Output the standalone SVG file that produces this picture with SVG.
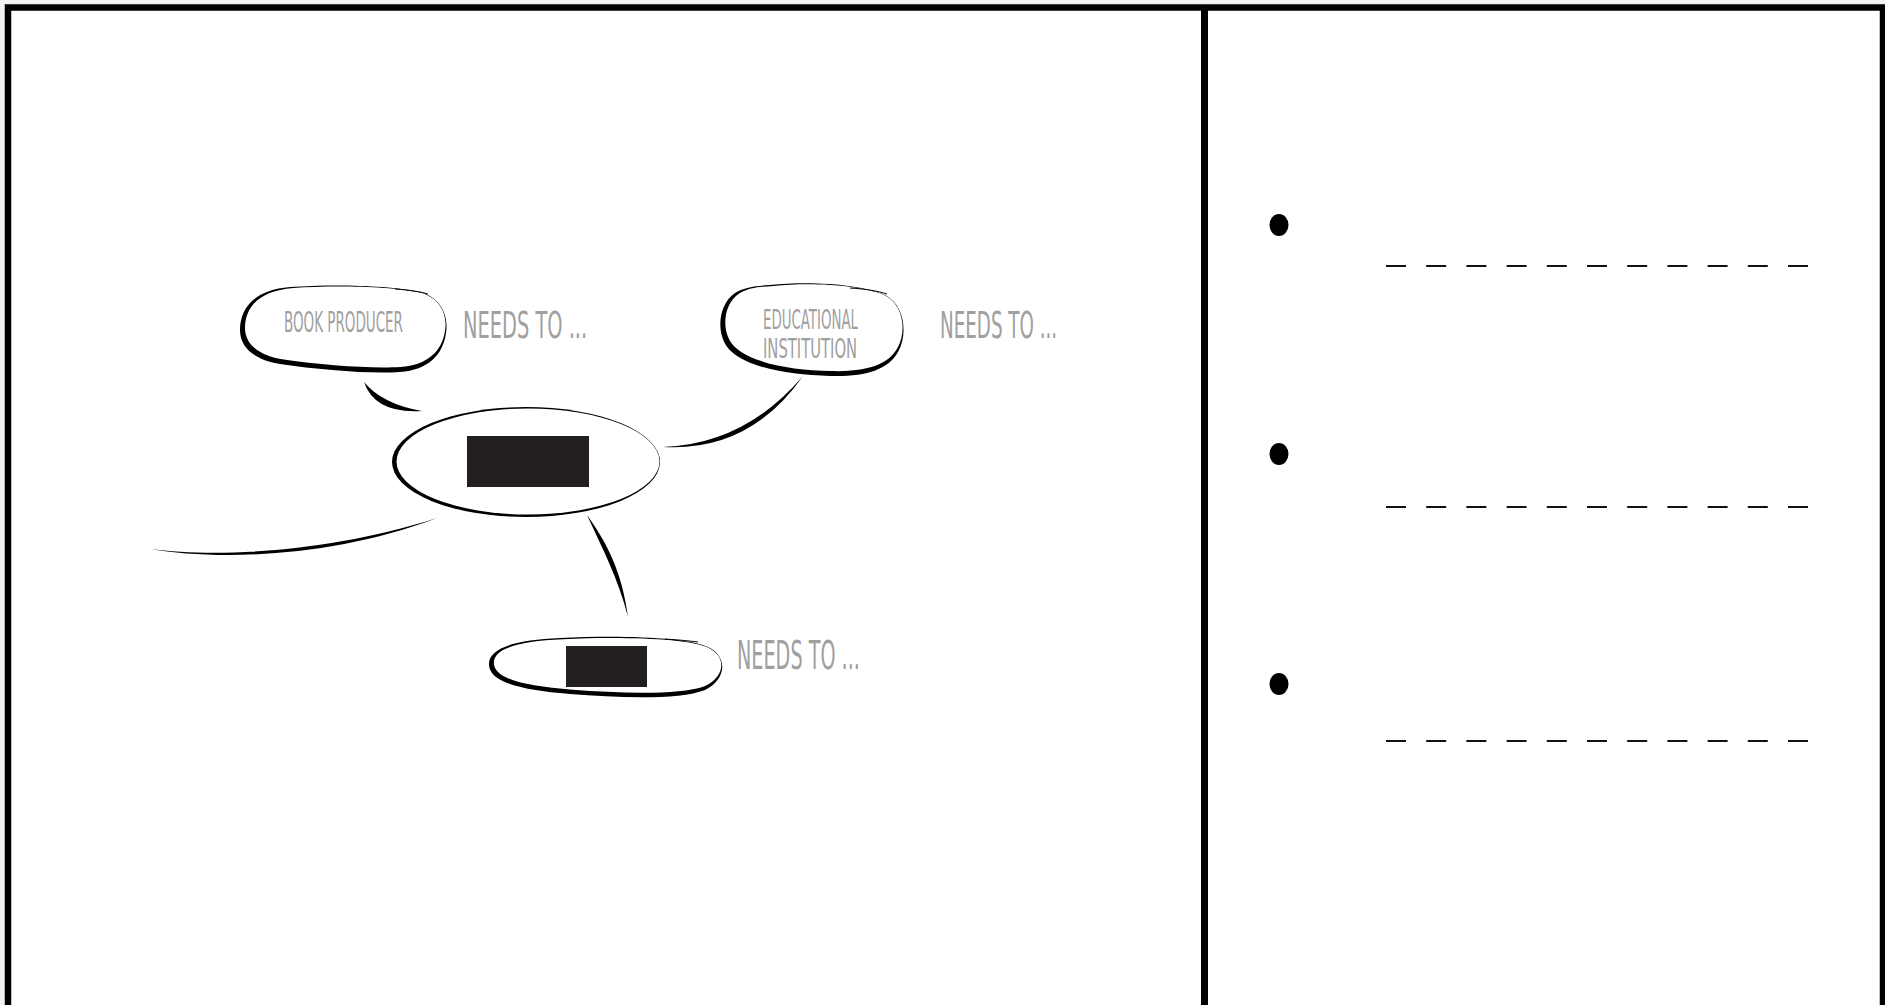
<svg xmlns="http://www.w3.org/2000/svg" width="1885" height="1005" viewBox="0 0 1885 1005">
<style>
.ink{fill:#000}
.paper{fill:#fff}
.lbl{font-family:"Liberation Sans Narrow","DejaVu Sans Condensed","Liberation Sans",sans-serif;fill:#a0a0a0}
.dash{stroke:#111;stroke-width:2.2;stroke-dasharray:20 20.2;fill:none}
.thin{fill:none;stroke:#000;stroke-width:1}
</style>
<rect x="0" y="0" width="1885" height="1005" fill="#f2f2f2"/>
<rect x="8" y="7.5" width="1875" height="1100" fill="#fff" stroke="#000" stroke-width="6.5"/>
<line x1="1204.5" y1="7" x2="1204.5" y2="1005" stroke="#000" stroke-width="7"/>

<g id="connectors">
  <path class="ink" d="M364,382 Q375,414 422,411 Q382,404 364,382 Z"/>
  <path class="ink" d="M803,376 Q750,452 663,447 Q745,444 803,376 Z"/>
  <path class="ink" d="M150,549 C220,558 330,552 437,518 C335,557 220,561 150,549 Z"/>
  <path class="ink" d="M587,515 C605,540 622,570 628,617 C618,578 603,550 587,515 Z"/>
</g>

<g id="node-central">
  <ellipse class="ink" cx="526" cy="462" rx="134" ry="55"/>
  <ellipse class="paper" cx="528" cy="461.5" rx="131.5" ry="53"/>
  <rect x="467" y="436" width="122" height="51" fill="#231f20"/>
</g>

<g id="node-book-producer">
  <path class="ink" d="M290,287 C330,284 390,285 420,292 C440,297 449,315 446,333 C443,355 428,370 400,372 C370,374 320,370 280,364 C255,360 240,348 240,330 C240,310 252,290 290,287 Z"/>
  <path class="paper" transform="translate(345.5,327) scale(0.971,0.93) translate(-343.5,-329)" d="M290,287 C330,284 390,285 420,292 C440,297 449,315 446,333 C443,355 428,370 400,372 C370,374 320,370 280,364 C255,360 240,348 240,330 C240,310 252,290 290,287 Z"/>
  <path class="thin" d="M395,289 C410,290 422,292 428,294"/>
  <text class="lbl" transform="translate(284,332) scale(0.583,1)" x="0" y="0" font-size="28" textLength="204" lengthAdjust="spacingAndGlyphs">BOOK PRODUCER</text>
  <text class="lbl" transform="translate(463,338) scale(0.64,1)" x="0" y="0" font-size="38" textLength="194" lengthAdjust="spacingAndGlyphs">NEEDS TO ...</text>
</g>

<g id="node-educational-institution">
  <path class="ink" d="M770,285 C810,281 860,284 885,295 C905,305 908,335 898,352 C888,370 865,377 830,376 C790,375 750,368 732,352 C715,338 717,305 735,293 C745,287 755,286 770,285 Z"/>
  <path class="paper" transform="translate(814,328) scale(0.9676,0.936) translate(-812,-330)" d="M770,285 C810,281 860,284 885,295 C905,305 908,335 898,352 C888,370 865,377 830,376 C790,375 750,368 732,352 C715,338 717,305 735,293 C745,287 755,286 770,285 Z"/>
  <path class="thin" d="M850,288 C866,289 878,291 887,294"/>
  <text class="lbl" transform="translate(763,329) scale(0.627,1)" x="0" y="0" font-size="26" textLength="151.5" lengthAdjust="spacingAndGlyphs">EDUCATIONAL</text>
  <text class="lbl" transform="translate(763,358) scale(0.702,1)" x="0" y="0" font-size="26" textLength="134" lengthAdjust="spacingAndGlyphs">INSTITUTION</text>
  <text class="lbl" transform="translate(940,338) scale(0.64,1)" x="0" y="0" font-size="38" textLength="183" lengthAdjust="spacingAndGlyphs">NEEDS TO ...</text>
</g>

<g id="node-bottom">
  <path class="ink" d="M560,638 C620,635 690,637 710,648 C728,658 726,680 705,690 C680,700 620,698 570,694 C520,690 490,682 489,665 C488,648 515,640 560,638 Z"/>
  <path class="paper" transform="translate(607,664.5) scale(0.975,0.903) translate(-605,-666)" d="M560,638 C620,635 690,637 710,648 C728,658 726,680 705,690 C680,700 620,698 570,694 C520,690 490,682 489,665 C488,648 515,640 560,638 Z"/>
  <path class="thin" d="M665,639 C680,640 690,641 698,642"/>
  <rect x="566" y="646" width="81" height="41" fill="#231f20"/>
  <text class="lbl" transform="translate(737,669) scale(0.64,1)" x="0" y="0" font-size="39" textLength="192" lengthAdjust="spacingAndGlyphs">NEEDS TO ...</text>
</g>

<g id="bullet-list">
  <ellipse class="ink" cx="1279" cy="225" rx="9.5" ry="11"/>
  <line class="dash" x1="1386" y1="266" x2="1808" y2="266"/>
  <ellipse class="ink" cx="1279" cy="454" rx="9.5" ry="11"/>
  <line class="dash" x1="1386" y1="507" x2="1808" y2="507"/>
  <ellipse class="ink" cx="1279" cy="684" rx="9.5" ry="11"/>
  <line class="dash" x1="1386" y1="741" x2="1808" y2="741"/>
</g>
</svg>
